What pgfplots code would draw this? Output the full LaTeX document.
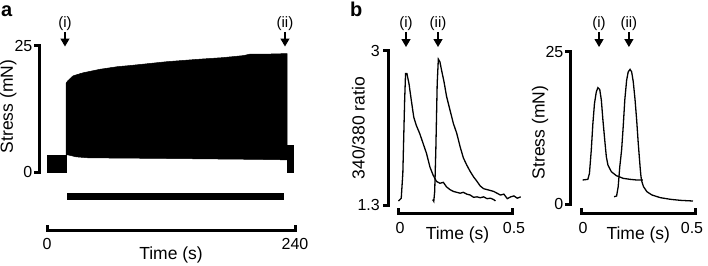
\documentclass[border=0pt]{standalone}
\usepackage{fontspec}
\setmainfont{Liberation Sans}
\usepackage{pgfplots}
\pgfplotsset{compat=1.18}
\usetikzlibrary{arrows.meta}

\pgfplotsset{
  panel/.style={scale only axis, clip=false, hide axis},
}
\tikzset{
  arr/.style={-{Triangle[width=9pt,length=8pt]}, line width=1.3pt},
  lab/.style={font=\fontsize{15}{15}\selectfont, inner sep=0pt},
  ax/.style={line width=3pt, line join=miter, line cap=butt},
  tl/.style={font=\fontsize{16}{16}\selectfont, inner sep=0pt},
  al/.style={font=\fontsize{17.5}{17.5}\selectfont, inner sep=0pt},
}

\begin{document}
\begin{tikzpicture}
\path[use as bounding box] (0pt,0pt) rectangle (708pt,265pt);

\node[font=\bfseries\fontsize{20}{20}\selectfont, anchor=base west, inner sep=0pt] at (1pt,248pt) {a};
\node[font=\bfseries\fontsize{20}{20}\selectfont, anchor=base west, inner sep=0pt] at (350pt,248pt) {b};

% ---------------- panel a
\begin{axis}[panel,
  at={(47pt,93pt)}, anchor=south west,
  width=248pt, height=126.5pt,
  xmin=0, xmax=240, ymin=0, ymax=25,
]
\addplot[fill=black, draw=black, line width=0.5pt] coordinates {
(0,0) (0,3.3) (18.4,3.3) (18.4,0) } -- cycle;
\addplot[fill=black, draw=black, line width=0.5pt] coordinates {
(18.4,3.4) (18.4,17.5) (20,18.0) (25.2,19.0) (34.8,19.6) (51.3,20.3)
(67.7,20.8) (83.2,21.1) (116,21.8) (148,22.3) (170,22.6) (180,22.8)
(190,23.0) (196.5,23.3) (213,23.3) (232.3,23.4) (232.3,2.4)
(200,2.5) (150,2.6) (100,2.7) (40,2.8) (28,3.0) (20,3.4) } -- cycle;
\addplot[fill=black, draw=black, line width=0.5pt] coordinates {
(232.3,0) (232.3,5.2) (238.2,5.2) (238.2,0) } -- cycle;
\addplot[black, line width=7pt] coordinates {(19.4,-4.84) (229.4,-4.84)};
\draw[arr] (axis cs:17.4,27.67) -- (axis cs:17.4,24.8);
\draw[arr] (axis cs:230.3,27.67) -- (axis cs:230.3,24.8);
\node[lab] at (axis cs:17.4,29.35) {(i)};
\node[lab] at (axis cs:230.3,29.35) {(ii)};
\end{axis}
% axes of panel a
\draw[ax] (34pt,219.3pt) -- (39pt,219.3pt) -- (39pt,93pt) -- (34pt,93pt);
\draw[ax] (47pt,40pt) -- (47pt,35pt) -- (295pt,35pt) -- (295pt,40pt);
\node[tl, anchor=east] at (32.5pt,219.3pt) {25};
\node[tl, anchor=east] at (32.5pt,93pt) {0};
\node[tl, anchor=base] at (47pt,16pt) {0};
\node[tl, anchor=base] at (295pt,16pt) {240};
\node[al, anchor=base] at (171pt,6pt) {Time (s)};
\node[al, anchor=center, rotate=90] at (8.3pt,158.5pt) {Stress (mN)};

% ---------------- panel b left
\begin{axis}[panel,
  at={(398.5pt,60pt)}, anchor=south west,
  width=113.8pt, height=154pt,
  xmin=0, xmax=0.5, ymin=1.3, ymax=3,
]
\addplot[black, line width=1.3pt] coordinates {
(0,1.344) (0.012,1.374) (0.019,1.65) (0.027,2.46) (0.031,2.75) (0.037,2.75)
(0.046,2.64) (0.056,2.46) (0.067,2.27) (0.078,2.18) (0.093,2.09) (0.108,1.98)
(0.123,1.87) (0.138,1.72) (0.152,1.63) (0.167,1.56) (0.182,1.54) (0.197,1.55)
(0.211,1.50) (0.226,1.47) (0.241,1.45) (0.256,1.44) (0.271,1.43) (0.285,1.44)
(0.300,1.42) (0.315,1.41) (0.330,1.385) (0.345,1.39) (0.359,1.38) (0.374,1.39)
(0.389,1.37) (0.404,1.375) (0.418,1.36) (0.426,1.345)};
\addplot[black, line width=1.3pt] coordinates {
(0.150,1.36) (0.155,1.34) (0.159,1.45) (0.164,1.91) (0.170,2.64) (0.175,2.91)
(0.182,2.88) (0.189,2.79) (0.200,2.66) (0.211,2.50) (0.226,2.35) (0.241,2.20)
(0.256,2.09) (0.271,1.94) (0.285,1.82) (0.300,1.74) (0.315,1.67) (0.330,1.61)
(0.345,1.56) (0.359,1.51) (0.374,1.48) (0.389,1.47) (0.404,1.46) (0.418,1.45)
(0.433,1.43) (0.448,1.41) (0.463,1.42) (0.478,1.37) (0.493,1.39) (0.507,1.40)
(0.522,1.375) (0.537,1.39)};
\draw[arr] (axis cs:0.033,3.21) -- (axis cs:0.033,3.044);
\draw[arr] (axis cs:0.1736,3.21) -- (axis cs:0.1736,3.044);
\node[lab] at (axis cs:0.033,3.304) {(i)};
\node[lab] at (axis cs:0.1736,3.304) {(ii)};
\end{axis}
\draw[ax] (383pt,214pt) -- (388pt,214pt) -- (388pt,60pt) -- (383pt,60pt);
\draw[ax] (398.5pt,57pt) -- (398.5pt,52pt) -- (512.3pt,52pt) -- (512.3pt,57pt);
\node[tl, anchor=east] at (380pt,214pt) {3};
\node[tl, anchor=east] at (380pt,60pt) {1.3};
\node[tl, anchor=base] at (400pt,32pt) {0};
\node[tl, anchor=base] at (514pt,32pt) {0.5};
\node[al, anchor=base] at (457.5pt,25.7pt) {Time (s)};
\node[al, anchor=center, rotate=90] at (358.3pt,136.7pt) {340/380 ratio};

% ---------------- panel b right
\begin{axis}[panel,
  at={(581.7pt,61pt)}, anchor=south west,
  width=114pt, height=152.3pt,
  xmin=0, xmax=0.5, ymin=0, ymax=25,
]
\addplot[black, line width=1.3pt] coordinates {
(0.004,3.94) (0.027,4.05) (0.034,5.03) (0.042,8.86) (0.049,13.2) (0.056,16.5)
(0.064,18.4) (0.071,19.1) (0.079,18.8) (0.086,17.1) (0.093,13.8) (0.101,10.5)
(0.108,7.76) (0.115,6.40) (0.130,5.30) (0.152,4.65) (0.182,4.21) (0.212,4.05)
(0.241,3.94) (0.268,3.94)};
\addplot[black, line width=1.3pt] coordinates {
(0.142,1.2) (0.153,1.31) (0.160,2.84) (0.167,6.12) (0.175,8.86) (0.182,12.7)
(0.189,17.1) (0.197,20.3) (0.204,21.7) (0.212,22.1) (0.219,21.7) (0.226,20.1)
(0.234,17.1) (0.241,13.8) (0.248,9.96) (0.256,6.12) (0.260,4.48) (0.264,3.66)
(0.271,2.84) (0.286,2.02) (0.308,1.48) (0.345,1.04) (0.389,0.77) (0.433,0.60)
(0.488,0.49)};
\draw[arr] (axis cs:0.076,28.23) -- (axis cs:0.076,25.77);
\draw[arr] (axis cs:0.207,28.23) -- (axis cs:0.207,25.77);
\node[lab] at (axis cs:0.076,29.6) {(i)};
\node[lab] at (axis cs:0.207,29.6) {(ii)};
\end{axis}
\draw[ax] (565pt,213.3pt) -- (570pt,213.3pt) -- (570pt,61pt) -- (565pt,61pt);
\draw[ax] (581.7pt,57pt) -- (581.7pt,52pt) -- (695.7pt,52pt) -- (695.7pt,57pt);
\node[tl, anchor=east] at (563.5pt,213.3pt) {25};
\node[tl, anchor=east] at (563.5pt,61pt) {0};
\node[tl, anchor=base] at (583pt,32pt) {0};
\node[tl, anchor=base] at (692pt,32pt) {0.5};
\node[al, anchor=base] at (638.3pt,25.7pt) {Time (s)};
\node[al, anchor=center, rotate=90] at (540pt,132.5pt) {Stress (mN)};
\end{tikzpicture}
\end{document}
